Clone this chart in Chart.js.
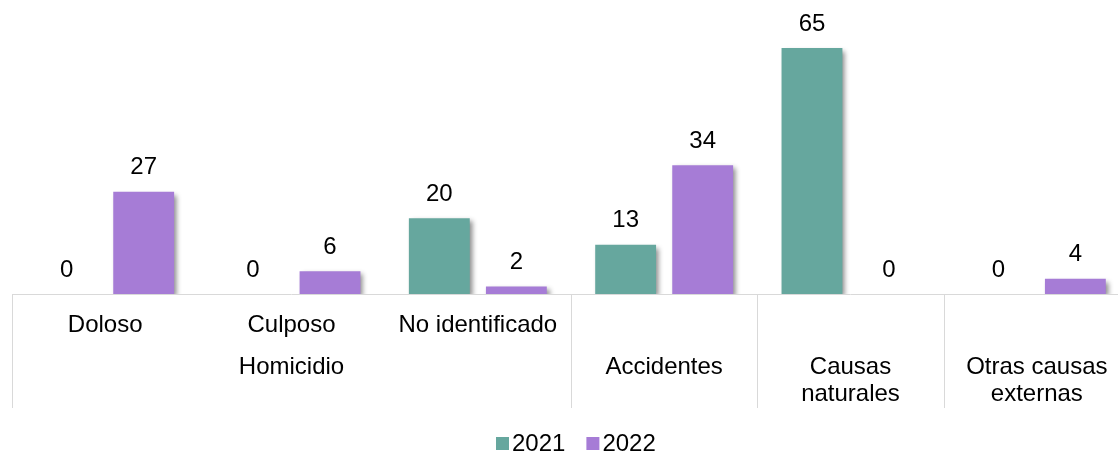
<!DOCTYPE html>
<html>
<head>
<meta charset="utf-8">
<script src="https://cdn.jsdelivr.net/npm/chart.js@4.4.1/dist/chart.umd.min.js"></script>
<style>
html,body{margin:0;padding:0;background:#fff;overflow:hidden;}
#wrap{position:relative;width:1131px;height:453px;}
</style>
</head>
<body>
<div id="wrap"><canvas id="c"></canvas></div>
<script>
const categories = ["Doloso", "Culposo", "No identificado", "Accidentes", "Causas naturales", "Otras causas externas"];
const categoryLines = [["Doloso"], ["Culposo"], ["No identificado"], ["Accidentes"], ["Causas", "naturales"], ["Otras causas", "externas"]];
const groupLabel = "Homicidio";
const seriesNames = ["2021", "2022"];
const values2021 = [0, 0, 20, 13, 65, 0];
const values2022 = [27, 6, 2, 34, 0, 4];
const colors = ["#66A79E", "#A67CD6"];

const FONT = '"Liberation Sans", Arial, sans-serif';
const FS = 24;

const shadowPlugin = {
  id: 'shadow',
  beforeDatasetDraw(chart) {
    const ctx = chart.ctx;
    ctx.save();
    ctx.shadowColor = 'rgba(0,0,0,0.45)';
    ctx.shadowBlur = 5;
    ctx.shadowOffsetX = 3;
    ctx.shadowOffsetY = 3;
  },
  afterDatasetDraw(chart) {
    chart.ctx.restore();
  }
};

const decorPlugin = {
  id: 'decor',
  beforeDatasetsDraw(chart) {
    const ctx = chart.ctx;
    const a = chart.chartArea;
    ctx.save();
    ctx.strokeStyle = '#D9D9D9';
    ctx.lineWidth = 1;
    ctx.beginPath();
    ctx.moveTo(a.left, a.bottom + 0.5);
    ctx.lineTo(a.right, a.bottom + 0.5);
    const n = categories.length;
    const w = (a.right - a.left) / n;
    const seps = [0, 3, 4, 5, 6];
    seps.forEach(i => {
      const px = Math.round(a.left + i * w) + 0.5;
      ctx.moveTo(px, a.bottom);
      ctx.lineTo(px, a.bottom + 114);
    });
    ctx.stroke();
    ctx.restore();
  },
  afterDatasetsDraw(chart) {
    const ctx = chart.ctx;
    const a = chart.chartArea;
    const xs = chart.scales.x;
    ctx.save();
    ctx.shadowColor = 'rgba(0,0,0,0)';
    ctx.fillStyle = '#000';
    ctx.font = FS + 'px ' + FONT;
    ctx.textAlign = 'center';
    ctx.textBaseline = 'middle';
    chart.data.datasets.forEach((ds, di) => {
      const meta = chart.getDatasetMeta(di);
      meta.data.forEach((bar, i) => {
        ctx.fillText(String(ds.data[i]), bar.x, bar.y - 24);
      });
    });
    categoryLines.forEach((lines, i) => {
      const cx = xs.getPixelForValue(i);
      const y0 = i < 3 ? a.bottom + 31 : a.bottom + 73;
      lines.forEach((ln, k) => ctx.fillText(ln, cx, y0 + k * 27));
    });
    ctx.fillText(groupLabel, xs.getPixelForValue(1), a.bottom + 73);
    const ly = 443;
    let lx = 496;
    seriesNames.forEach((s, i) => {
      ctx.fillStyle = colors[i];
      ctx.fillRect(lx, ly - 6, 13, 13);
      ctx.fillStyle = '#000';
      ctx.textAlign = 'left';
      ctx.fillText(s, lx + 16, ly + 1);
      lx += 16 + ctx.measureText(s).width + 21;
    });
    ctx.restore();
  }
};

new Chart(document.getElementById('c'), {
  type: 'bar',
  data: {
    labels: categories,
    datasets: [
      { label: seriesNames[0], data: values2021, backgroundColor: colors[0], borderWidth: 0 },
      { label: seriesNames[1], data: values2022, backgroundColor: colors[1], borderWidth: 0 }
    ]
  },
  options: {
    responsive: true,
    maintainAspectRatio: false,
    animation: false,
    events: [],
    layout: { padding: { left: 12, right: 1, top: 29, bottom: 159 } },
    datasets: { bar: { categoryPercentage: 0.827, barPercentage: 0.79 } },
    scales: {
      x: { display: false },
      y: { display: false, min: 0, max: 70 }
    },
    plugins: { legend: { display: false }, tooltip: { enabled: false } }
  },
  plugins: [shadowPlugin, decorPlugin]
});
</script>
</body>
</html>
